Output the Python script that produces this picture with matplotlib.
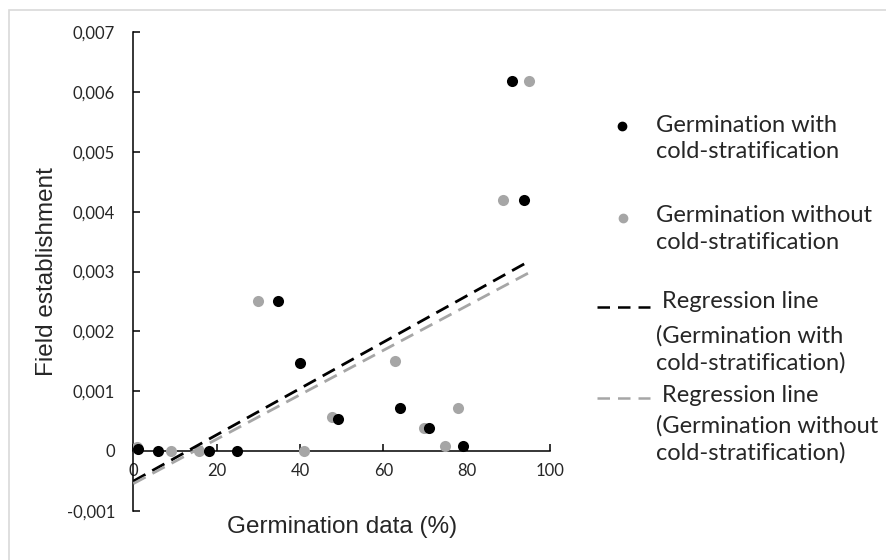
import matplotlib
matplotlib.use("Agg")
import matplotlib.pyplot as plt
import numpy as np
from matplotlib.lines import Line2D
from matplotlib.patches import Rectangle
from matplotlib.ticker import FuncFormatter, MultipleLocator

# germination (%) vs field establishment
x_cold = [1.2, 6, 18.2, 24.8, 34.8, 40, 49.2, 64, 71, 79.2, 90.9, 93.8]
y_cold = [0.00004, 0, 0, 0, 0.0025, 0.00147, 0.00054, 0.00072, 0.00039,
          0.00009, 0.00618, 0.00419]
x_warm = [0.8, 9, 15.8, 30, 41, 47.6, 62.8, 69.8, 74.8, 78, 88.7, 95]
y_warm = [0.00007, 0, 0, 0.0025, 0, 0.00057, 0.0015, 0.00039, 0.00009,
          0.00072, 0.00419, 0.00618]

BLACK = "#000000"
GREY = "#A6A6A6"
TXT = "#262626"
TICKFONT = "Lato"
TITLEFONT = "Liberation Sans"

W, H = 887, 560
fig = plt.figure(figsize=(W / 100, H / 100), dpi=100)
ax = fig.add_axes([133.3 / W, 1 - 510.7 / H, (550 - 133.3) / W, (510.7 - 32.3) / H])

ax.scatter(x_warm, y_warm, s=64, color=GREY, zorder=3, linewidths=0)
ax.scatter(x_cold, y_cold, s=64, color=BLACK, zorder=3, linewidths=0)

# linear trendlines
for xs, ys, col in [(x_cold, y_cold, BLACK), (x_warm, y_warm, GREY)]:
    k, b = np.polyfit(xs, ys, 1)
    xx = np.array([0, max(xs)])
    ax.plot(xx, k * xx + b, color=col, lw=2.0, dashes=(5, 2.8), zorder=4)

ax.set_xlim(0, 100)
ax.set_ylim(-0.001, 0.007)
ax.xaxis.set_major_locator(MultipleLocator(20))
ax.yaxis.set_major_locator(MultipleLocator(0.001))

def fmt(v, pos):
    if abs(v) < 1e-12:
        return "0"
    return ("%.3f" % v).replace(".", ",")

ax.yaxis.set_major_formatter(FuncFormatter(fmt))
ax.spines["top"].set_visible(False)
ax.spines["right"].set_visible(False)
ax.spines["bottom"].set_position(("data", 0))
for s in ["left", "bottom"]:
    ax.spines[s].set_linewidth(1.1)
ax.tick_params(axis="both", direction="in", length=5, width=1.1,
               labelsize=12, labelcolor=TXT)
ax.tick_params(axis="y", pad=13)
ax.tick_params(axis="x", pad=9)
for lab in ax.get_xticklabels() + ax.get_yticklabels():
    lab.set_fontfamily(TICKFONT)
ax.patch.set_visible(False)

fig.text(47 / W, 1 - 272 / H, "Field establishment", rotation=90, ha="center",
         va="center", fontsize=17.5, family=TITLEFONT, color=TXT)
fig.text(342 / W, 1 - 527 / H, "Germination data (%)", ha="center",
         va="center", fontsize=17.5, family=TITLEFONT, color=TXT)

# hand-made legend
def fx(px):
    return px / W

def fy(py):
    return 1 - py / H

leg_kw = dict(fontsize=17, family=TICKFONT, color=TXT, va="center", ha="left",
              linespacing=1.3)
fig.add_artist(Line2D([fx(622)], [fy(126)], marker="o", ms=6, color=BLACK, lw=0))
fig.text(fx(656), fy(138.5), "Germination with\ncold-stratification", **leg_kw)
fig.add_artist(Line2D([fx(623)], [fy(218)], marker="o", ms=6, color=GREY, lw=0))
fig.text(fx(656), fy(229), "Germination without\ncold-stratification", **leg_kw)

fig.add_artist(Line2D([fx(597), fx(650)], [fy(307), fy(307)], color=BLACK,
                      lw=1.8, dashes=(5, 3.2)))
fig.text(fx(661.7), fy(301.7), "Regression line", **leg_kw)
fig.text(fx(656), fy(349), "(Germination with\ncold-stratification)", **leg_kw)
fig.add_artist(Line2D([fx(597), fx(650)], [fy(398), fy(398)], color=GREY,
                      lw=1.8, dashes=(5, 3.2)))
fig.text(fx(661.7), fy(395), "Regression line", **leg_kw)
fig.text(fx(656), fy(439), "(Germination without\ncold-stratification)", **leg_kw)

# chart frame
fig.add_artist(Rectangle((9.5 / W, -0.1), 1.2, 1.1 - 9.5 / H, transform=fig.transFigure,
                         fill=False, edgecolor="#D9D9D9", lw=1.2))

fig.savefig("out.png", dpi=100)
